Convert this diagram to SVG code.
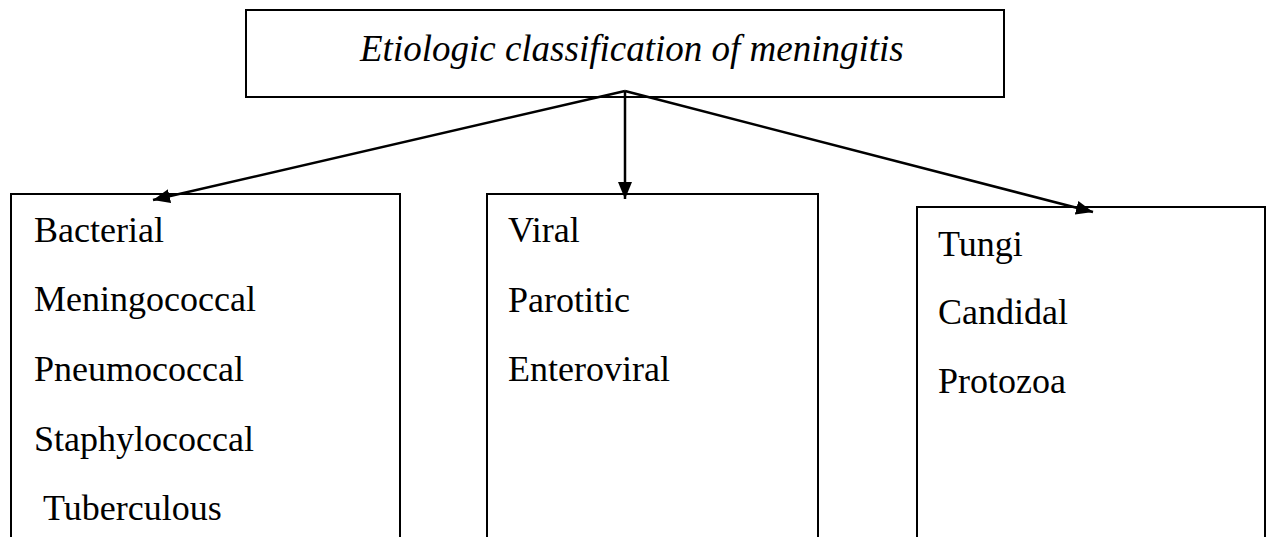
<svg xmlns="http://www.w3.org/2000/svg" width="1268" height="537" viewBox="0 0 1268 537">
<style>
.box{fill:#fff;stroke:#000;stroke-width:2}
.t{font-family:"Liberation Serif","Times New Roman",serif;font-size:36px;fill:#000}
.title{font-family:"Liberation Serif","Times New Roman",serif;font-size:37px;font-style:italic;fill:#000}
.c{stroke:#000;stroke-width:2.5;fill:none}
</style>
<defs>
<marker id="ah" markerUnits="userSpaceOnUse" markerWidth="18" markerHeight="14" refX="17" refY="7" orient="auto">
<path d="M0,0 L17,7 L0,14 z" fill="#000"/>
</marker>
</defs>
<g id="root">
<rect class="box" x="246" y="10" width="758" height="87"/>
<text class="title" x="360" y="61">Etiologic classification of meningitis</text>
</g>
<g id="bacterial">
<rect class="box" x="11" y="194" width="389" height="360"/>
<text class="t" x="34" y="242">Bacterial</text>
<text class="t" x="34" y="311">Meningococcal</text>
<text class="t" x="34" y="381">Pneumococcal</text>
<text class="t" x="34" y="451">Staphylococcal</text>
<text class="t" x="43" y="520">Tuberculous</text>
</g>
<g id="viral">
<rect class="box" x="487" y="194" width="331" height="360"/>
<text class="t" x="508" y="242">Viral</text>
<text class="t" x="508" y="312">Parotitic</text>
<text class="t" x="508" y="381">Enteroviral</text>
</g>
<g id="fungi">
<rect class="box" x="917" y="207" width="348" height="360"/>
<text class="t" x="938" y="256">Tungi</text>
<text class="t" x="938" y="324">Candidal</text>
<text class="t" x="938" y="393">Protozoa</text>
</g>
<g id="connectors">
<line class="c" x1="625" y1="91" x2="153" y2="200" marker-end="url(#ah)"/>
<line class="c" x1="625" y1="91" x2="625" y2="199" marker-end="url(#ah)"/>
<line class="c" x1="625" y1="91" x2="1093" y2="212" marker-end="url(#ah)"/>
</g>
</svg>
